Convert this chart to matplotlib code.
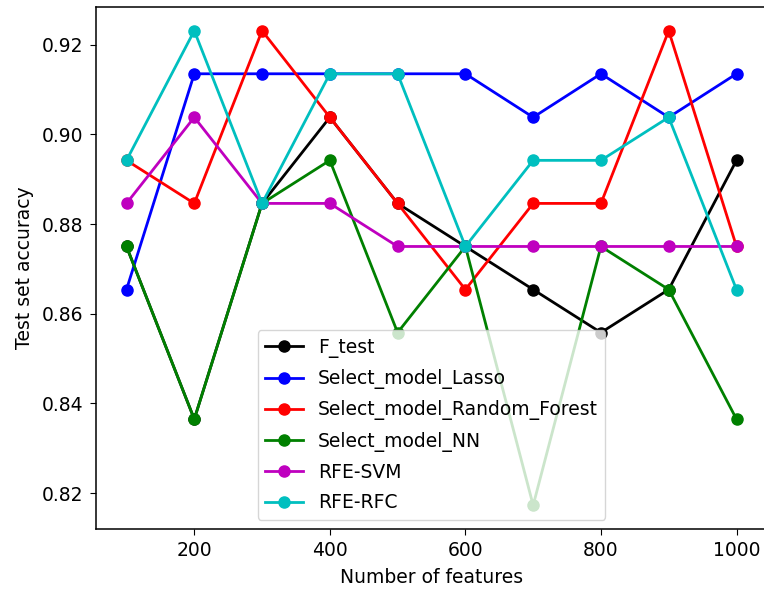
import numpy as np
import matplotlib
matplotlib.use('Agg')
import matplotlib.pyplot as plt

# numero de features y exactitud en test (lecturas del grafico)
n_features = [100, 200, 300, 400, 500, 600, 700, 800, 900, 1000]

f_test = [0.8750, 0.8365, 0.8846, 0.9038, 0.8846, 0.8750, 0.8654, 0.8558, 0.8654, 0.8942]
lasso = [0.8654, 0.9135, 0.9135, 0.9135, 0.9135, 0.9135, 0.9038, 0.9135, 0.9038, 0.9135]
random_forest = [0.8942, 0.8846, 0.9231, 0.9038, 0.8846, 0.8654, 0.8846, 0.8846, 0.9231, 0.8750]
nn = [0.8750, 0.8365, 0.8846, 0.8942, 0.8558, 0.8750, 0.8173, 0.8750, 0.8654, 0.8365]
rfe_svm = [0.8846, 0.9038, 0.8846, 0.8846, 0.8750, 0.8750, 0.8750, 0.8750, 0.8750, 0.8750]
rfe_rfc = [0.8942, 0.9231, 0.8846, 0.9135, 0.9135, 0.8750, 0.8942, 0.8942, 0.9038, 0.8654]

labels = ['F_test', 'Select_model_Lasso', 'Select_model_Random_Forest',
          'Select_model_NN', 'RFE-SVM', 'RFE-RFC']
colors = ['k', 'b', 'r', 'g', 'm', 'c']

plt.rcParams['font.size'] = 13.5
plt.rcParams['axes.linewidth'] = 1.1
plt.rcParams['xtick.major.size'] = 4.5
plt.rcParams['ytick.major.size'] = 4.5
plt.rcParams['xtick.major.pad'] = 4.5
plt.rcParams['ytick.major.pad'] = 4.5
plt.rcParams['axes.labelpad'] = 5.5

fig = plt.figure(figsize=(7.64, 5.95), dpi=100)
ax = fig.add_axes([96 / 764, 66 / 595, 671 / 764, 522 / 595])

series = [f_test, lasso, random_forest, nn, rfe_svm, rfe_rfc]
for s, lab, c in zip(series, labels, colors):
    ax.plot(n_features, s, '-o', color=c, label=lab, lw=2, ms=8)

ax.set_xticks([200, 400, 600, 800, 1000])
ax.set_yticks([0.82, 0.84, 0.86, 0.88, 0.90, 0.92])
ax.set_xlabel('Number of features')
ax.set_ylabel('Test set accuracy')
ax.legend(loc='lower center', fontsize=13.5, labelspacing=0.6)

fig.savefig('out.png', dpi=100)
